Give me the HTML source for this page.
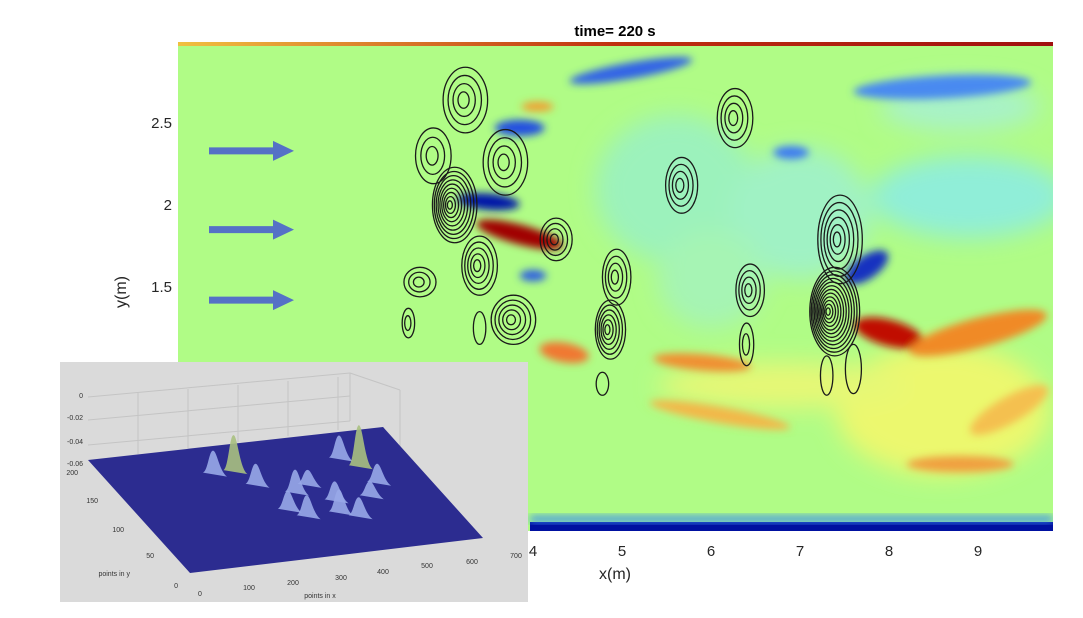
<!DOCTYPE html>
<html><head><meta charset="utf-8"><style>
body{margin:0;background:#fff;}
svg{display:block;font-family:"Liberation Sans",sans-serif;}
</style></head><body>
<svg id="chart" width="1083" height="618" viewBox="0 0 1083 618">
<defs>
<filter id="blur" x="-50%" y="-50%" width="200%" height="200%"><feGaussianBlur stdDeviation="12"/></filter>
<filter id="blur2" x="-50%" y="-50%" width="200%" height="200%"><feGaussianBlur stdDeviation="4"/></filter>
<clipPath id="plotclip"><rect x="178" y="42" width="875" height="489"/></clipPath>
<linearGradient id="topedge" x1="0" x2="1"><stop offset="0" stop-color="#f0c040"/><stop offset="0.5" stop-color="#c03010"/><stop offset="1" stop-color="#a01010"/></linearGradient>
</defs>
<text x="615" y="36" text-anchor="middle" font-size="15" font-weight="bold">time= 220 s</text>
<g clip-path="url(#plotclip)">
<rect x="178" y="42" width="875" height="489" fill="#b0fc86"/>
<g id="blobs" filter="url(#blur)"></g>
<g id="blobs2" filter="url(#blur2)"></g>
<rect x="178" y="42" width="875" height="4" fill="url(#topedge)"/>
<rect x="530" y="522" width="523" height="10" fill="#0010a0"/>
<rect x="530" y="516" width="523" height="6" fill="#3a8cf0" filter="url(#blur2)"/>
<g id="contours" fill="none" stroke="#1a1a1a" stroke-width="1.3"></g>
</g>
<g id="axes" font-size="15" fill="#262626"></g>
<text x="615" y="579" text-anchor="middle" font-size="16" fill="#262626">x(m)</text>
<text transform="translate(126,292) rotate(-90)" text-anchor="middle" font-size="16" fill="#262626">y(m)</text>
<g id="arrows" fill="#5571c6"></g>
<g id="inset"></g>
</svg>
<script>
const NS='http://www.w3.org/2000/svg';
const xTicks=[4,5,6,7,8,9];
const yTicks=[1.5,2,2.5];
const arrowY=[2.33,1.85,1.42];
// soft broad field features (data units)
const softX=[5.6,7.0,8.9,8.6,6.8,6.0,8.8];
const softY=[2.1,1.95,2.05,0.75,0.9,1.55,2.6];
const softRX=[0.9,0.8,1.1,1.2,1.4,0.6,0.9];
const softRY=[0.45,0.4,0.25,0.4,0.14,0.3,0.15];
const softC=['#9cf2bc','#a0f2c4','#90eed8','#ecf86e','#e6f876','#a6f4b4','#a8f2c8'];
// sharp field features
const blobX=[5.1,8.6,3.85,3.5,6.9,7.75,4.0,3.85,8.0,9.0,4.35,5.9,6.1,8.8,9.35,4.05];
const blobY=[2.82,2.72,2.47,2.02,2.32,1.62,1.57,1.82,1.22,1.22,1.1,1.04,0.72,0.42,0.75,2.6];
const blobRX=[0.7,1.0,0.28,0.35,0.2,0.28,0.15,0.5,0.4,0.8,0.28,0.55,0.8,0.6,0.5,0.18];
const blobRY=[0.05,0.07,0.05,0.05,0.04,0.07,0.035,0.06,0.08,0.09,0.06,0.05,0.05,0.05,0.08,0.03];
const blobC=['#3264e6','#4a8af0','#2050e0','#0018a8','#3e7cf0','#1530c0','#2e60e0','#a00000','#c01000','#f08a28','#f07830','#f09030','#f2b848','#f0a040','#f4c050','#f0a030'];
const blobRot=[-10,-3,0,5,0,-35,0,15,15,-15,10,5,10,0,-30,0];
// contour groups
const cX=[3.24,2.88,3.69,3.12,4.26,3.40,2.73,3.78,4.94,4.87,5.67,6.27,6.44,7.45,7.39,2.6,4.78,7.6,7.3,6.4,3.4];
const cY=[2.64,2.30,2.26,2.00,1.79,1.63,1.53,1.30,1.56,1.24,2.12,2.53,1.48,1.79,1.35,1.28,0.91,1.0,0.96,1.15,1.25];
const cRX=[0.25,0.2,0.25,0.25,0.18,0.2,0.18,0.25,0.16,0.17,0.18,0.2,0.16,0.25,0.28,0.07,0.07,0.09,0.07,0.08,0.07];
const cRY=[0.2,0.17,0.2,0.23,0.13,0.18,0.09,0.15,0.17,0.18,0.17,0.18,0.16,0.27,0.27,0.09,0.07,0.15,0.12,0.13,0.1];
const cN=[4,3,4,9,4,5,3,5,4,6,4,4,4,6,12,2,1,1,1,2,1];
const X=x=>177+89*x, Y=y=>533-164*y;
function mk(tag,attrs,parent){const e=document.createElementNS(NS,tag);for(const k in attrs)e.setAttribute(k,attrs[k]);parent.appendChild(e);return e;}
const sb=document.getElementById('blobs');
softX.forEach((bx,i)=>{
 const e=mk('ellipse',{cx:X(bx),cy:Y(softY[i]),rx:89*softRX[i],ry:164*softRY[i],fill:softC[i]},sb);
 
 
});
const bl=document.getElementById('blobs2');
blobX.forEach((bx,i)=>{
 const e=mk('ellipse',{cx:X(bx),cy:Y(blobY[i]),rx:89*blobRX[i],ry:164*blobRY[i],fill:blobC[i],transform:`rotate(${blobRot[i]} ${X(bx)} ${Y(blobY[i])})`},bl);
 
 
});
const co=document.getElementById('contours');
cX.forEach((x,i)=>{
 for(let k=0;k<cN[i];k++){
  const f=1-k/cN[i];
  const e=mk('ellipse',{cx:X(x)-k*0.6,cy:Y(cY[i]),rx:Math.max(2,89*cRX[i]*f),ry:Math.max(2,164*cRY[i]*f)},co);
  
  
 }
});
const ax=document.getElementById('axes');
xTicks.forEach(t=>{const e=mk('text',{x:X(t),y:556,'text-anchor':'middle'},ax);e.textContent=t;
 
 });
yTicks.forEach(t=>{const e=mk('text',{x:172,y:Y(t)+5,'text-anchor':'end'},ax);e.textContent=t;
 
 });
const ar=document.getElementById('arrows');
arrowY.forEach(v=>{const y=Y(v);
 const e=mk('path',{d:`M209 ${y-3.5}H273V${y-10}L294 ${y}L273 ${y+10}V${y+3.5}H209Z`},ar);
 
 });
// inset 3d surface
const ins=document.getElementById('inset');
const peakX=[0.35,0.42,0.45,0.55,0.61,0.65,0.48,0.52,0.63,0.68,0.78,0.82,0.83,0.77];
const peakY=[0.78,0.78,0.65,0.55,0.6,0.45,0.42,0.35,0.35,0.3,0.78,0.7,0.55,0.45];
const peakH=[22,35,20,22,14,18,18,20,22,18,22,40,18,14];
mk('rect',{x:60,y:362,width:468,height:240,fill:'#dadada'},ins);
const gl=mk('g',{stroke:'#c4c4c4','stroke-width':1,fill:'none'},ins);
[[88,397,350,373],[88,420,350,396],[88,445,350,421],[350,373,350,421],[350,373,400,390],[400,390,400,460],[400,460,383,427]].forEach(l=>mk('line',{x1:l[0],y1:l[1],x2:l[2],y2:l[3]},gl));
for(let i=1;i<6;i++){mk('line',{x1:88+i*50,y1:397-i*4,x2:88+i*50,y2:460-i*6},gl);}
mk('polygon',{points:'88,460 383,427 483,538 190,573',fill:'#2c2c90'},ins);
const P=(u,v)=>[190+(483-190)*u+(88-190)*v, 573+(538-573)*u+(460-573)*v];
peakX.forEach((u,i)=>{const [px,py]=P(u,peakY[i]);const h=peakH[i];
 const e=mk('path',{d:`M${px-10} ${py}C${px-5} ${py-2} ${px-4} ${py-h} ${px} ${py-h}C${px+4} ${py-h} ${px+6} ${py-2} ${px+14} ${py+4}Z`,fill:h>30?'#a8c080':'#98a8e8',opacity:0.9},ins);
 
 });
const lab=[['0',83,398,'end'],['-0.02',83,420,'end'],['-0.04',83,444,'end'],['-0.06',83,466,'end'],['200',78,475,'end'],['150',98,503,'end'],['100',124,532,'end'],['50',154,558,'end'],['0',178,588,'end'],['0',200,596,'middle'],['100',249,590,'middle'],['200',293,585,'middle'],['300',341,580,'middle'],['400',383,574,'middle'],['500',427,568,'middle'],['600',472,564,'middle'],['700',516,558,'middle'],['points in y',130,576,'end'],['points in x',320,598,'middle']];
lab.forEach(l=>{const e=mk('text',{x:l[1],y:l[2],'text-anchor':l[3],'font-size':7,fill:'#333'},ins);e.textContent=l[0];
 
 });
</script>
</body></html>
